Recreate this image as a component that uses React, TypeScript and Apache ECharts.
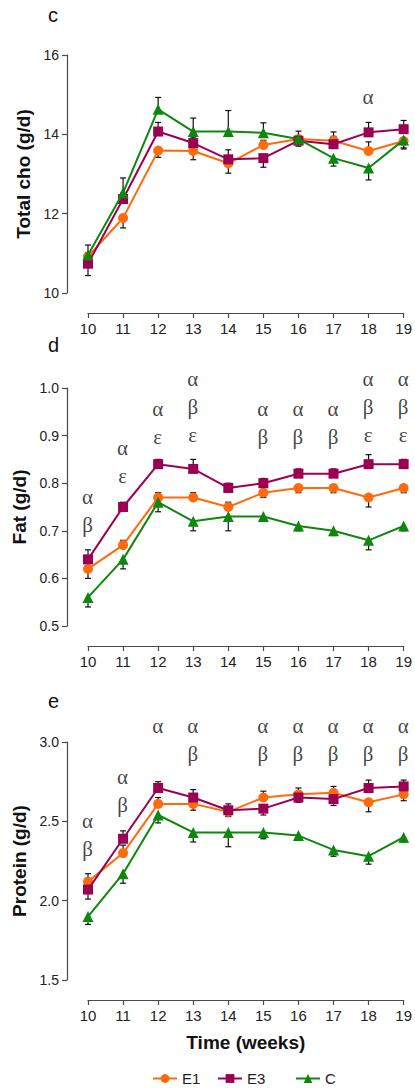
import React, { useEffect, useRef } from "react";
import * as echarts from "echarts";

const weeks = [10, 11, 12, 13, 14, 15, 16, 17, 18, 19];
const seriesNames = ["E1", "E3", "C"];

// Total cho (g/d)
const choE1 = [10.92, 11.89, 13.59, 13.58, 13.27, 13.73, 13.88, 13.84, 13.58, 13.83];
const choE3 = [10.74, 12.37, 14.07, 13.78, 13.37, 13.4, 13.84, 13.75, 14.05, 14.13];
const choC = [10.96, 12.53, 14.63, 14.07, 14.07, 14.04, 13.88, 13.4, 13.15, 13.86];
const choErrE1 = [0.1, -0.25, -0.17, -0.22, -0.25, 0.12, 0.2, 0.22, 0.23, -0.2];
const choErrE3 = [-0.3, 0.15, 0.23, 0.15, 0.24, -0.23, -0.14, 0.2, 0.25, 0.22];
const choErrC = [0.25, 0.37, 0.3, 0.34, 0.53, 0.25, -0.1, -0.2, -0.3, -0.2];
const choSig = ["", "", "", "", "", "", "", "", "α", ""];
const choSigY = [null, null, null, null, null, null, null, null, 14.92, null];

// Fat (g/d)
const fatE1 = [0.62, 0.67, 0.77, 0.77, 0.75, 0.78, 0.79, 0.79, 0.77, 0.79];
const fatE3 = [0.64, 0.75, 0.84, 0.83, 0.79, 0.8, 0.82, 0.82, 0.84, 0.84];
const fatC = [0.56, 0.64, 0.76, 0.72, 0.73, 0.73, 0.71, 0.7, 0.68, 0.71];
const fatErrE1 = [-0.02, 0.01, 0.01, 0.01, 0.01, -0.01, -0.01, -0.01, -0.02, -0.01];
const fatErrE3 = [0.02, 0.01, 0.01, 0.02, 0.01, 0.01, 0.01, 0.01, 0.02, 0.01];
const fatErrC = [-0.02, -0.02, -0.02, -0.02, -0.03, -0.01, -0.01, -0.01, -0.02, -0.01];
const fatSig = ["αβ", "αε", "αε", "αβε", "", "αβ", "αβ", "αβ", "αβε", "αβε"];
const fatSigY = [0.771, 0.872, 0.954, 1.017, null, 0.954, 0.954, 0.954, 1.017, 1.017];

// Protein (g/d)
const protE1 = [2.12, 2.3, 2.61, 2.61, 2.56, 2.65, 2.67, 2.68, 2.62, 2.67];
const protE3 = [2.07, 2.39, 2.71, 2.65, 2.57, 2.58, 2.65, 2.64, 2.71, 2.72];
const protC = [1.9, 2.17, 2.54, 2.43, 2.43, 2.43, 2.41, 2.32, 2.28, 2.4];
const protErrE1 = [0.05, 0.05, 0.04, -0.04, -0.03, 0.04, 0.04, 0.04, -0.06, -0.04];
const protErrE3 = [-0.06, 0.05, 0.04, 0.05, 0.04, -0.04, -0.03, -0.04, 0.05, 0.04];
const protErrC = [-0.05, -0.06, -0.05, -0.06, -0.09, -0.04, -0.02, -0.04, -0.05, -0.03];
const protSig = ["αβ", "αβ", "α", "αβ", "", "αβ", "αβ", "αβ", "αβ", "αβ"];
const protSigY = [2.499, 2.778, 3.099, 3.099, null, 3.099, 3.099, 3.099, 3.099, 3.099];

const colors = ["#ff6a0d", "#9c0052", "#0e870e"];
const symbols = ["circle", "rect", "triangle"];
const symbolSizes = [10, 10, 11];

const SANS = "Liberation Sans, Arial, sans-serif";
const SERIF = "Liberation Serif, Times New Roman, serif";

const panels = [
  {
    letter: "c",
    title: "Total cho (g/d)",
    min: 10, max: 16, interval: 2, digits: 0,
    values: [choE1, choE3, choC],
    errs: [choErrE1, choErrE3, choErrC],
    sig: choSig, sigY: choSigY,
  },
  {
    letter: "d",
    title: "Fat (g/d)",
    min: 0.5, max: 1.0, interval: 0.1, digits: 1,
    values: [fatE1, fatE3, fatC],
    errs: [fatErrE1, fatErrE3, fatErrC],
    sig: fatSig, sigY: fatSigY,
  },
  {
    letter: "e",
    title: "Protein (g/d)",
    min: 1.5, max: 3.0, interval: 0.5, digits: 1,
    values: [protE1, protE3, protC],
    errs: [protErrE1, protErrE3, protErrC],
    sig: protSig, sigY: protSigY,
  },
];

// layout (pixels)
const gridTops = [55, 388, 742];
const gridHeight = 238;
const gridLeft = 88;
const gridRight = 11;
const letterY = [15, 345, 701];
const nameGaps = [33, 38, 38];

export default function App() {
  const ref = useRef<HTMLDivElement>(null);

  useEffect(() => {
    if (!ref.current) return;
    const chart = echarts.init(ref.current, undefined, { renderer: "svg" });

    const axisColor = "#4a4a4a";
    const labelColor = "#222";

    const grid: any[] = [];
    const xAxis: any[] = [];
    const yAxis: any[] = [];
    const series: any[] = [];
    const graphic: any[] = [];

    panels.forEach((p, gi) => {
      grid.push({ left: gridLeft, right: gridRight, top: gridTops[gi], height: gridHeight });
      xAxis.push({
        type: "value",
        gridIndex: gi,
        min: 10,
        max: 19,
        interval: 1,
        offset: 20,
        axisLine: { show: true, lineStyle: { color: axisColor, width: 1.2 } },
        axisTick: { show: true, length: 5, lineStyle: { color: axisColor, width: 1.2 } },
        axisLabel: { fontSize: 15, color: labelColor, margin: 8, fontFamily: SANS },
        splitLine: { show: false },
        name: gi === 2 ? "Time (weeks)" : "",
        nameLocation: "middle",
        nameGap: 33,
        nameTextStyle: { fontSize: 19, fontWeight: "bold", color: "#111", fontFamily: SANS },
      });
      yAxis.push({
        type: "value",
        gridIndex: gi,
        min: p.min,
        max: p.max,
        interval: p.interval,
        offset: 21,
        axisLine: { show: true, lineStyle: { color: axisColor, width: 1.2 } },
        axisTick: { show: true, length: 5, lineStyle: { color: axisColor, width: 1.2 } },
        axisLabel: {
          fontSize: 14,
          color: labelColor,
          margin: 8,
          fontFamily: SANS,
          formatter: (v: number) => v.toFixed(p.digits),
        },
        splitLine: { show: false },
        name: p.title,
        nameLocation: "middle",
        nameRotate: 90,
        nameGap: nameGaps[gi],
        nameTextStyle: { fontSize: 19, fontWeight: "bold", color: "#111", fontFamily: SANS },
      });

      // error bars
      p.values.forEach((vals, si) => {
        const errs = p.errs[si];
        series.push({
          type: "custom",
          name: "err-" + gi + "-" + si,
          xAxisIndex: gi,
          yAxisIndex: gi,
          clip: false,
          silent: true,
          z: 1,
          data: weeks.map((w, i) => [w, vals[i], vals[i] + errs[i]]),
          encode: { x: 0, y: [1, 2] },
          renderItem: (params: any, api: any) => {
            const x = api.value(0);
            const p0 = api.coord([x, api.value(1)]);
            const p1 = api.coord([x, api.value(2)]);
            const st = { stroke: "#111", lineWidth: 1.2 };
            return {
              type: "group",
              children: [
                { type: "line", shape: { x1: p0[0], y1: p0[1], x2: p1[0], y2: p1[1] }, style: st },
                { type: "line", shape: { x1: p1[0] - 3, y1: p1[1], x2: p1[0] + 3, y2: p1[1] }, style: st },
              ],
            };
          },
        });
      });

      // lines
      p.values.forEach((vals, si) => {
        series.push({
          type: "line",
          name: seriesNames[si],
          xAxisIndex: gi,
          yAxisIndex: gi,
          clip: false,
          z: 2 + si,
          symbol: symbols[si],
          symbolSize: symbolSizes[si],
          showAllSymbol: true,
          lineStyle: { width: 2, color: colors[si] },
          itemStyle: { color: colors[si] },
          data: weeks.map((w, i) => [w, vals[i]]),
        });
      });

      // significance letters
      const sigData: any[] = [];
      weeks.forEach((w, i) => {
        if (p.sig[i] && p.sigY[i] != null) sigData.push([w, p.sigY[i], p.sig[i]]);
      });
      series.push({
        type: "scatter",
        name: "sig-" + gi,
        xAxisIndex: gi,
        yAxisIndex: gi,
        clip: false,
        silent: true,
        symbolSize: 1,
        itemStyle: { color: "rgba(0,0,0,0)" },
        z: 10,
        data: sigData,
        label: {
          show: true,
          position: [0, 0],
          align: "center",
          verticalAlign: "top",
          offset: [0, -14],
          fontSize: 21,
          lineHeight: 28,
          color: "#111",
          fontFamily: SERIF,
          formatter: (prm: any) => String(prm.data[2]).split("").join("\n"),
        },
      });

      graphic.push({
        type: "text",
        x: 48,
        y: letterY[gi],
        style: {
          text: p.letter,
          fontSize: 20,
          fill: "#111",
          fontFamily: SANS,
          textVerticalAlign: "middle",
        },
      });
    });

    const legendLefts = [152, 217, 295];
    const legend = seriesNames.map((n, i) => ({
      data: [n],
      left: legendLefts[i],
      top: 1071,
      padding: 0,
      itemWidth: 24,
      itemHeight: 11,
      selectedMode: false,
      textStyle: { fontSize: 15, color: "#222", fontFamily: SANS },
    }));

    chart.setOption({
      animation: false,
      backgroundColor: "#fff",
      grid,
      xAxis,
      yAxis,
      series,
      legend,
      graphic,
    });

    return () => chart.dispose();
  }, []);

  return (
    <div
      ref={ref}
      style={{ position: "fixed", left: 0, top: 0, width: 415, height: 1090, background: "#fff" }}
    />
  );
}
